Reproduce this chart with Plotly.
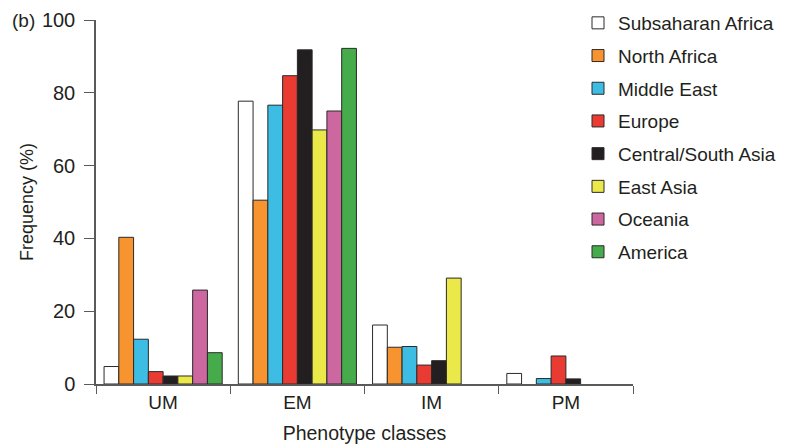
import plotly.graph_objects as go

categories = ["UM", "EM", "IM", "PM"]
regions = ["Subsaharan Africa", "North Africa", "Middle East", "Europe",
           "Central/South Asia", "East Asia", "Oceania", "America"]
colors = ["#ffffff", "#f7942f", "#3dbde3", "#ea3b33",
          "#231f20", "#ebe84a", "#cd67a0", "#46ab4b"]

subsaharan_africa = [4.8, 77.7, 16.2, 2.9]
north_africa = [40.3, 50.5, 10.1, None]
middle_east = [12.3, 76.6, 10.3, 1.5]
europe = [3.4, 84.7, 5.2, 7.7]
central_south_asia = [2.2, 91.8, 6.4, 1.4]
east_asia = [2.2, 69.8, 29.1, None]
oceania = [25.8, 75.0, None, None]
america = [8.6, 92.2, None, None]

series = [subsaharan_africa, north_africa, middle_east, europe,
          central_south_asia, east_asia, oceania, america]

FONT = "Liberation Sans, Arial, Helvetica, sans-serif"
TXT = "#231f20"
AX = "#5a5a5a"

# the page body has an 8px margin, so the figure is drawn at page (8, 8)
OFF = 8
W, H = 788 - OFF, 444 - OFF
L, R, T, B = 96 - OFF, W - (633 - OFF), 20 - OFF, H - (384 - OFF)
PW = W - L - R
PH = H - T - B

fig = go.Figure()
for name, vals, col in zip(regions, series, colors):
    fig.add_trace(go.Bar(
        x=categories, y=vals, name=name, legendgroup=name,
        marker=dict(color=col, line=dict(color="#2a2a2a", width=1)),
    ))

fig.update_layout(
    width=W, height=H,
    margin=dict(l=L, r=R, t=T, b=B, autoexpand=False),
    paper_bgcolor="white", plot_bgcolor="white",
    barmode="group", bargap=0.12, bargroupgap=0,
    font=dict(family=FONT, size=18, color=TXT),
    showlegend=True,
    legend=dict(
        x=(578 - OFF - L) / PW, xanchor="left",
        y=1 + (T + 4) / PH, yanchor="top",
        font=dict(family=FONT, size=19, color=TXT),
        tracegroupgap=5, bgcolor="rgba(0,0,0,0)", maxheight=1.0,
    ),
    xaxis=dict(
        automargin=False,
        showline=True, linecolor=AX, linewidth=1.5,
        ticks="outside", tickson="boundaries", ticklen=8, tickcolor=AX, tickwidth=1.3,
        tickfont=dict(size=19, color=TXT),
        title=dict(text="Phenotype classes", font=dict(size=19.5, color=TXT)),
        showgrid=False,
    ),
    yaxis=dict(
        automargin=False,
        range=[0, 100], tickvals=[0, 20, 40, 60, 80, 100],
        showline=True, linecolor=AX, linewidth=1.5,
        ticks="outside", ticklen=10, tickcolor=AX, tickwidth=1.3,
        ticklabelstandoff=5,
        tickfont=dict(size=20, color=TXT),
        title=dict(text="Frequency (%)", font=dict(size=18, color=TXT), standoff=4),
        showgrid=False, zeroline=False,
    ),
    annotations=[dict(
        text="(b)", xref="paper", yref="paper", x=(10 - OFF - L) / PW, y=1,
        xanchor="left", yanchor="middle", showarrow=False,
        font=dict(family=FONT, size=19, color=TXT),
    )],
)

fig.write_html("out.html")
